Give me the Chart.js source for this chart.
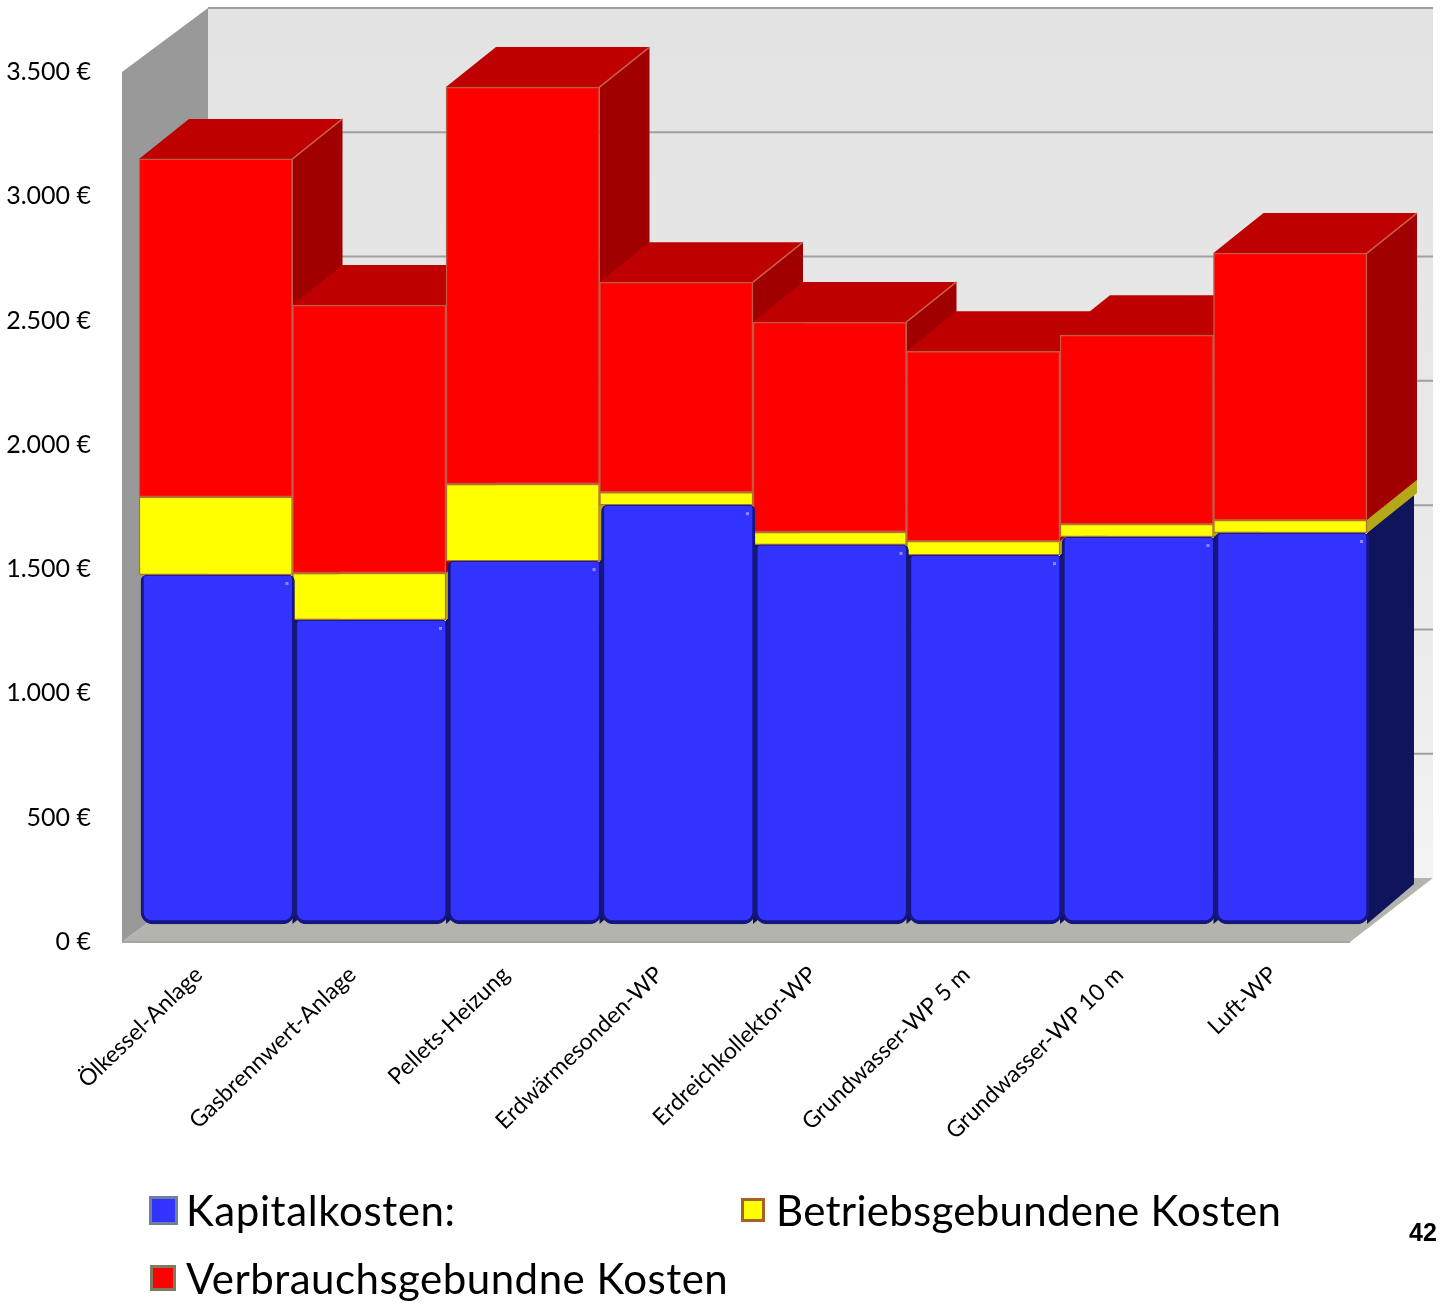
<!DOCTYPE html>
<html lang="de">
<head>
<meta charset="utf-8">
<title>Kosten</title>
<script src="https://cdn.jsdelivr.net/npm/chart.js@4"></script>
<style>
  html, body { margin: 0; padding: 0; background: #fff; }
  #wrap { width: 1441px; height: 1304px; overflow: hidden; }
</style>
</head>
<body>
<div id="wrap"><canvas id="chart" width="1441" height="1304"></canvas></div>
<script>
const categories = [
  "Ölkessel-Anlage",
  "Gasbrennwert-Anlage",
  "Pellets-Heizung",
  "Erdwärmesonden-WP",
  "Erdreichkollektor-WP",
  "Grundwasser-WP 5 m",
  "Grundwasser-WP 10 m",
  "Luft-WP",
];
const kapitalkosten = [1404, 1223, 1460, 1685, 1525, 1484, 1557, 1573];
const betriebskosten = [314, 189, 310, 52, 52, 56, 52, 52];
const verbrauchskosten = [1360, 1078, 1597, 845, 845, 764, 760, 1074];
const seriesLabels = ["Kapitalkosten:", "Betriebsgebundene Kosten", "Verbrauchsgebundne Kosten"];
const pageNumber = "42";

const FONT = "Lato, 'Open Sans', sans-serif";

// Tiefe der Wand und der Balken
const wallDepth = { x: 86, y: 64 };
const barDepth = { x: 50, y: 40 };
const barShift = { x: 17, y: -18 };
const blueShift = 2;

const sideColors = ["#10145c", "#b4a816", "#a00000"];
const topColor = "#bf0000";

const walls = {
  id: "walls",
  beforeDraw(chart) {
    const { ctx } = chart;
    const y = chart.scales.y;
    const y0 = y.getPixelForValue(0);
    const yTop = y.getPixelForValue(3500);
    const left = chart.chartArea.left;
    const right = chart.chartArea.right;
    const bx = left + wallDepth.x;
    const dy = wallDepth.y;

    const back = ctx.createLinearGradient(0, yTop - dy, 0, y0 - dy);
    back.addColorStop(0, "#e3e3e3");
    back.addColorStop(0.6, "#e9e9e9");
    back.addColorStop(1, "#f3f3f3");
    ctx.fillStyle = back;
    ctx.fillRect(bx, yTop - dy, 1433 - bx, y0 - yTop);

    ctx.strokeStyle = "#a0a0a0";
    ctx.lineWidth = 2;
    y.ticks.forEach((t) => {
      if (t.value === 0) return;
      const py = y.getPixelForValue(t.value) - dy;
      ctx.beginPath();
      ctx.moveTo(bx, py);
      ctx.lineTo(1433, py);
      ctx.stroke();
    });

    ctx.fillStyle = "#999999";
    ctx.beginPath();
    ctx.moveTo(left, yTop);
    ctx.lineTo(bx, yTop - dy);
    ctx.lineTo(bx, y0 - dy);
    ctx.lineTo(left, y0);
    ctx.closePath();
    ctx.fill();

    ctx.fillStyle = "#b4b4ae";
    ctx.beginPath();
    ctx.moveTo(left, y0);
    ctx.lineTo(right, y0);
    ctx.lineTo(right + wallDepth.x - 3, y0 - dy);
    ctx.lineTo(bx, y0 - dy);
    ctx.closePath();
    ctx.fill();
    ctx.strokeStyle = "#a4a4a0";
    ctx.lineWidth = 2;
    ctx.beginPath();
    ctx.moveTo(left, y0);
    ctx.lineTo(right, y0);
    ctx.stroke();
  },
};

const bars3d = {
  id: "bars3d",
  // Seiten und Deckel, von links nach rechts
  beforeDatasetsDraw(chart) {
    const { ctx } = chart;
    categories.forEach((_, i) => {
      chart.data.datasets.forEach((ds, d) => {
        const bar = chart.getDatasetMeta(d).data[i];
        const xr = bar.x + bar.width / 2 + barShift.x;
        const yt = bar.y + barShift.y;
        const yb = bar.base + barShift.y;
        const dx = d === 0 ? barDepth.x - 3 : barDepth.x;
        ctx.fillStyle = sideColors[d];
        ctx.beginPath();
        ctx.moveTo(xr, yt);
        ctx.lineTo(xr + dx, yt - barDepth.y);
        ctx.lineTo(xr + dx, yb - barDepth.y);
        ctx.lineTo(xr, yb);
        ctx.closePath();
        ctx.fill();
        if (d === 2) {
          const xl = xr - bar.width;
          ctx.fillStyle = topColor;
          ctx.beginPath();
          ctx.moveTo(xl, yt);
          ctx.lineTo(xl + dx, yt - barDepth.y);
          ctx.lineTo(xr + dx, yt - barDepth.y);
          ctx.lineTo(xr, yt);
          ctx.closePath();
          ctx.fill();
          ctx.strokeStyle = "#c8604a";
          ctx.lineWidth = 1.5;
          ctx.beginPath();
          ctx.moveTo(xr, yt);
          ctx.lineTo(xr + dx, yt - barDepth.y);
          ctx.stroke();
        }
      });
    });
  },
  beforeDatasetDraw(chart, args) {
    chart.ctx.save();
    chart.ctx.translate(barShift.x + (args.index === 0 ? blueShift : 0), barShift.y);
  },
  afterDatasetDraw(chart) {
    chart.ctx.restore();
  },
  // kleine helle Punkte oben rechts in den blauen Balken
  afterDatasetsDraw(chart) {
    const { ctx } = chart;
    ctx.fillStyle = "#8c8cff";
    chart.getDatasetMeta(0).data.forEach((bar) => {
      ctx.fillRect(bar.x + bar.width / 2 + barShift.x - 7, bar.y + barShift.y + 7, 3, 3);
    });
  },
};

const legendAndPage = {
  id: "legendAndPage",
  afterDraw(chart) {
    const { ctx } = chart;
    const items = [
      { box: [149, 1196, 29, 29], fill: "#3333ff", line: "#6f7f9f", tx: 186, ty: 1226, sp: "0.6px" },
      { box: [741, 1198, 24, 24], fill: "#ffff00", line: "#a8602c", tx: 776, ty: 1226, sp: "0.3px" },
      { box: [150, 1265, 26, 26], fill: "#ff0000", line: "#7c7c60", tx: 186, ty: 1294, sp: "0.5px" },
    ];
    items.forEach((it, i) => {
      const [x, y, w, h] = it.box;
      ctx.fillStyle = it.fill;
      ctx.fillRect(x, y, w, h);
      ctx.strokeStyle = it.line;
      ctx.lineWidth = 3;
      ctx.strokeRect(x + 1.5, y + 1.5, w - 3, h - 3);
      ctx.fillStyle = "#000";
      ctx.font = "42px " + FONT;
      ctx.letterSpacing = it.sp;
      ctx.textAlign = "left";
      ctx.textBaseline = "alphabetic";
      ctx.fillText(seriesLabels[i], it.tx, it.ty);
    });
    ctx.letterSpacing = "0px";
    ctx.font = "bold 25px 'Liberation Sans', Arial, sans-serif";
    ctx.fillStyle = "#000";
    ctx.fillText(pageNumber, 1409, 1241);
  },
};

new Chart(document.getElementById("chart"), {
  type: "bar",
  data: {
    labels: categories,
    datasets: [
      {
        label: seriesLabels[0],
        data: kapitalkosten,
        backgroundColor: "#3333ff",
        borderColor: "#16167f",
        borderWidth: { top: 1, left: 3, right: 3, bottom: 4 },
        borderSkipped: false,
        borderRadius: { topLeft: 6, topRight: 6, bottomLeft: 12, bottomRight: 12 },
      },
      {
        label: seriesLabels[1],
        data: betriebskosten,
        backgroundColor: "#ffff00",
        borderColor: "#b0762a",
        borderWidth: 1.5,
        borderSkipped: false,
      },
      {
        label: seriesLabels[2],
        data: verbrauchskosten,
        backgroundColor: "#ff0000",
        borderColor: "#c05a44",
        borderWidth: 1.5,
        borderSkipped: false,
      },
    ],
  },
  options: {
    responsive: false,
    animation: false,
    layout: { padding: { top: 72, right: 91, left: 0, bottom: 0 } },
    datasets: { bar: { barPercentage: 1, categoryPercentage: 1, clip: false } },
    plugins: { legend: { display: false }, title: { display: false }, tooltip: { enabled: false } },
    scales: {
      x: {
        stacked: true,
        grid: { display: false },
        border: { display: false },
        afterFit(scale) { scale.height = 362; },
        ticks: {
          autoSkip: false,
          minRotation: 44,
          maxRotation: 44,
          padding: 11,
          color: "#000",
          font: { family: FONT, size: 23 },
        },
      },
      y: {
        stacked: true,
        min: 0,
        max: 3500,
        grid: { display: false },
        border: { display: false },
        afterFit(scale) { scale.width = 122; },
        ticks: {
          stepSize: 500,
          padding: 23,
          color: "#000",
          font: { family: FONT, size: 25 },
          callback: (v) => v.toLocaleString("de-DE") + " €",
        },
      },
    },
  },
  plugins: [walls, bars3d, legendAndPage],
});
</script>
</body>
</html>
